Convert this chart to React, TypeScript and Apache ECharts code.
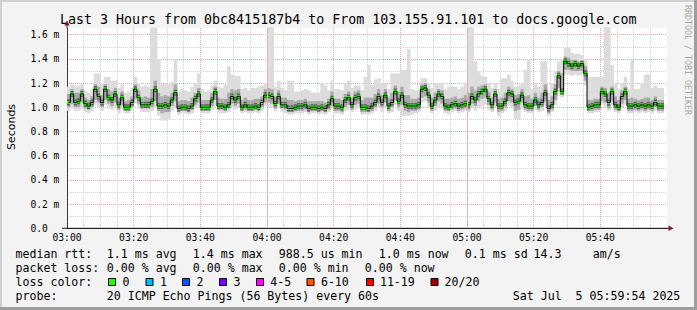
import React, { useEffect, useRef } from 'react';
import * as echarts from 'echarts';

// one value per minute, 03:00 .. 05:59 (ms)
const medianRtt = [
  1.04, 1.11, 1.04, 1.05, 1.11, 1.03, 1.01, 1.04, 1.15, 1.09,
  1.04, 1.15, 1.08, 1.06, 1.11, 1.02, 1.08, 1.00, 1.00, 1.04,
  1.15, 1.08, 1.02, 1.02, 1.02, 1.05, 1.15, 1.01, 1.01, 1.02,
  1.01, 1.06, 1.12, 0.99, 1.00, 1.00, 0.99, 1.01, 1.07, 1.11,
  1.00, 1.00, 1.00, 1.06, 1.13, 1.01, 1.01, 1.00, 1.02, 1.09,
  1.06, 1.09, 1.00, 1.02, 1.00, 1.00, 1.01, 1.00, 1.04, 1.10,
  1.10, 1.09, 1.03, 1.09, 1.02, 1.02, 0.99, 0.99, 1.00, 1.01,
  1.01, 1.02, 0.99, 1.00, 1.00, 0.99, 1.00, 0.99, 1.02, 1.07,
  1.01, 1.01, 1.00, 1.06, 1.08, 1.02, 1.08, 1.09, 1.00, 1.00,
  0.99, 1.01, 1.04, 1.09, 1.04, 1.10, 1.01, 1.04, 1.13, 1.05,
  1.10, 1.02, 1.01, 1.01, 1.01, 1.02, 1.15, 1.16, 1.10, 1.01,
  1.06, 1.11, 1.09, 1.01, 1.00, 1.02, 1.03, 1.01, 1.02, 1.03,
  1.02, 1.09, 1.06, 1.11, 1.13, 1.15, 1.07, 1.02, 1.11, 1.01,
  1.01, 1.05, 1.12, 1.11, 1.04, 1.05, 1.10, 1.02, 1.01, 1.01,
  1.06, 1.02, 1.04, 1.12, 0.99, 1.02, 1.13, 1.26, 1.13, 1.38,
  1.36, 1.34, 1.36, 1.34, 1.36, 1.28, 1.00, 1.01, 1.02, 1.02,
  1.13, 1.11, 1.04, 1.13, 1.02, 1.00, 1.09, 1.13, 1.01, 1.01,
  1.02, 1.01, 1.02, 1.01, 1.02, 1.01, 1.04, 1.01, 1.01, null,
];

const minRtt = [
  0.97, 0.99, 0.97, 0.97, 0.99, 0.96, 0.95, 0.97, 1.02, 1.00,
  0.97, 1.02, 0.99, 0.98, 1.00, 0.95, 0.98, 0.95, 0.95, 0.97,
  1.03, 0.99, 0.96, 0.96, 0.96, 0.97, 1.00, 0.93, 0.89, 0.89,
  0.90, 0.97, 1.00, 0.94, 0.95, 0.95, 0.94, 0.95, 0.99, 1.00,
  0.95, 0.95, 0.95, 0.98, 1.01, 0.95, 0.95, 0.95, 0.96, 1.00,
  0.98, 1.00, 0.95, 0.96, 0.95, 0.95, 0.96, 0.95, 0.97, 1.01,
  1.00, 1.00, 0.97, 0.99, 0.96, 0.95, 0.94, 0.94, 0.95, 0.95,
  0.95, 0.96, 0.94, 0.95, 0.95, 0.94, 0.95, 0.94, 0.96, 0.98,
  0.95, 0.95, 0.94, 0.97, 0.98, 0.96, 0.98, 0.99, 0.94, 0.94,
  0.94, 0.95, 0.97, 1.00, 0.96, 1.00, 0.95, 0.96, 1.02, 0.97,
  0.93, 0.93, 0.93, 0.94, 0.95, 0.96, 1.04, 1.05, 1.00, 0.95,
  0.97, 1.00, 0.99, 0.95, 0.94, 0.96, 0.97, 0.95, 0.96, 0.97,
  0.96, 0.99, 0.97, 1.00, 1.01, 1.02, 0.98, 0.96, 1.00, 0.93,
  0.95, 0.97, 1.01, 1.00, 0.90, 0.90, 0.99, 0.96, 0.95, 0.95,
  0.98, 0.96, 0.97, 1.01, 0.93, 0.96, 1.02, 1.12, 1.08, 1.27,
  1.27, 1.26, 1.27, 1.26, 1.27, 1.18, 0.95, 0.95, 0.96, 0.96,
  1.02, 1.00, 0.97, 1.02, 0.96, 0.95, 1.00, 1.02, 0.95, 0.95,
  0.96, 0.95, 0.96, 0.95, 0.96, 0.95, 0.97, 0.95, 0.95, null,
];

const maxRtt = [
  1.17, 1.19, 1.18, 1.18, 1.19, 1.14, 1.12, 1.15, 1.28, 1.28,
  1.19, 1.25, 1.25, 1.22, 1.22, 1.16, 1.19, 1.12, 1.13, 1.16,
  1.25, 1.20, 1.17, 1.18, 1.17, 1.66, 1.66, 1.40, 1.19, 1.20,
  1.19, 1.21, 1.40, 1.13, 1.15, 1.14, 1.13, 1.17, 1.20, 1.28,
  1.15, 1.13, 1.14, 1.18, 1.22, 1.17, 1.16, 1.19, 1.34, 1.27,
  1.26, 1.26, 1.15, 1.16, 1.14, 1.16, 1.16, 1.17, 1.18, 1.20,
  1.66, 1.66, 1.17, 1.22, 1.16, 1.14, 1.22, 1.22, 1.13, 1.13,
  1.14, 1.15, 1.14, 1.12, 1.12, 1.12, 1.20, 1.18, 1.14, 1.22,
  1.15, 1.15, 1.14, 1.20, 1.22, 1.16, 1.18, 1.18, 1.14, 1.25,
  1.35, 1.18, 1.23, 1.24, 1.20, 1.20, 1.15, 1.28, 1.28, 1.28,
  1.31, 1.31, 1.48, 1.15, 1.14, 1.14, 1.24, 1.24, 1.20, 1.16,
  1.20, 1.20, 1.20, 1.15, 1.17, 1.17, 1.17, 1.15, 1.17, 1.20,
  1.66, 1.66, 1.38, 1.29, 1.26, 1.25, 1.20, 1.16, 1.20, 1.15,
  1.24, 1.24, 1.27, 1.22, 1.17, 1.18, 1.20, 1.31, 1.40, 1.15,
  1.20, 1.17, 1.38, 1.38, 1.12, 1.20, 1.30, 1.38, 1.40, 1.49,
  1.49, 1.45, 1.44, 1.44, 1.43, 1.40, 1.25, 1.25, 1.25, 1.25,
  1.25, 1.66, 1.66, 1.35, 1.20, 1.15, 1.20, 1.25, 1.15, 1.39,
  1.15, 1.15, 1.20, 1.27, 1.27, 1.16, 1.18, 1.16, 1.16, null,
];

const lowRtt = [
  1.00, 1.03, 1.00, 1.00, 1.04, 0.99, 0.98, 1.00, 1.06, 1.04,
  1.00, 1.06, 1.03, 1.01, 1.04, 0.98, 1.02, 0.97, 0.97, 1.00,
  1.07, 1.03, 0.99, 0.99, 0.99, 1.00, 1.05, 0.97, 0.95, 0.96,
  0.96, 1.01, 1.05, 0.96, 0.97, 0.97, 0.96, 0.98, 1.02, 1.04,
  0.97, 0.97, 0.97, 1.01, 1.06, 0.98, 0.98, 0.97, 0.99, 1.03,
  1.01, 1.03, 0.97, 0.98, 0.97, 0.97, 0.98, 0.97, 1.00, 1.04,
  1.04, 1.03, 0.99, 1.03, 0.99, 0.98, 0.96, 0.96, 0.97, 0.97,
  0.97, 0.98, 0.96, 0.97, 0.97, 0.96, 0.97, 0.96, 0.98, 1.01,
  0.97, 0.97, 0.96, 1.00, 1.02, 0.98, 1.02, 1.03, 0.96, 0.96,
  0.96, 0.97, 1.00, 1.03, 1.00, 1.04, 0.97, 1.00, 1.06, 1.00,
  1.02, 0.97, 0.96, 0.97, 0.97, 0.98, 1.08, 1.09, 1.04, 0.97,
  1.01, 1.05, 1.03, 0.97, 0.97, 0.98, 0.99, 0.97, 0.98, 0.99,
  0.98, 1.03, 1.01, 1.05, 1.07, 1.08, 1.02, 0.98, 1.04, 0.96,
  0.97, 1.00, 1.05, 1.04, 0.97, 0.98, 1.04, 0.98, 0.97, 0.97,
  1.01, 0.98, 1.00, 1.05, 0.95, 0.98, 1.06, 1.16, 1.10, 1.31,
  1.31, 1.30, 1.30, 1.30, 1.30, 1.22, 0.97, 0.97, 0.98, 0.98,
  1.05, 1.04, 0.99, 1.05, 0.98, 0.97, 1.03, 1.06, 0.97, 0.97,
  0.98, 0.97, 0.98, 0.97, 0.98, 0.97, 1.00, 0.97, 0.97, null,
];

const highRtt = [
  1.11, 1.15, 1.12, 1.12, 1.15, 1.08, 1.06, 1.09, 1.19, 1.17,
  1.10, 1.19, 1.15, 1.13, 1.16, 1.08, 1.13, 1.05, 1.06, 1.09,
  1.19, 1.14, 1.08, 1.09, 1.08, 1.15, 1.22, 1.12, 1.09, 1.10,
  1.09, 1.12, 1.19, 1.05, 1.06, 1.06, 1.05, 1.08, 1.12, 1.16,
  1.06, 1.06, 1.06, 1.12, 1.17, 1.08, 1.07, 1.07, 1.12, 1.15,
  1.14, 1.15, 1.06, 1.08, 1.06, 1.06, 1.07, 1.07, 1.09, 1.15,
  1.16, 1.15, 1.09, 1.14, 1.08, 1.08, 1.06, 1.06, 1.05, 1.06,
  1.06, 1.07, 1.05, 1.05, 1.05, 1.05, 1.05, 1.04, 1.07, 1.13,
  1.07, 1.07, 1.06, 1.11, 1.13, 1.08, 1.13, 1.14, 1.06, 1.08,
  1.08, 1.08, 1.11, 1.15, 1.10, 1.15, 1.08, 1.12, 1.18, 1.13,
  1.17, 1.10, 1.10, 1.07, 1.07, 1.08, 1.19, 1.20, 1.15, 1.08,
  1.12, 1.15, 1.14, 1.07, 1.07, 1.08, 1.09, 1.07, 1.08, 1.10,
  1.12, 1.17, 1.14, 1.17, 1.18, 1.19, 1.13, 1.08, 1.15, 1.07,
  1.08, 1.12, 1.17, 1.15, 1.10, 1.11, 1.15, 1.09, 1.10, 1.07,
  1.12, 1.08, 1.12, 1.19, 1.06, 1.09, 1.19, 1.30, 1.28, 1.42,
  1.41, 1.39, 1.39, 1.38, 1.38, 1.34, 1.06, 1.06, 1.07, 1.07,
  1.17, 1.16, 1.12, 1.17, 1.09, 1.06, 1.14, 1.17, 1.07, 1.08,
  1.07, 1.06, 1.07, 1.08, 1.08, 1.06, 1.09, 1.06, 1.06, null,
];

const xTickLabels = ['03:00', '03:20', '03:40', '04:00', '04:20', '04:40', '05:00', '05:20', '05:40'];
const yTickLabels = ['0.0', '0.2 m', '0.4 m', '0.6 m', '0.8 m', '1.0 m', '1.2 m', '1.4 m', '1.6 m'];
const hourMarks = [60, 120];

const lossLegend = [
  { label: '0', color: '#26ff00' },
  { label: '1', color: '#00b8ff' },
  { label: '2', color: '#0059ff' },
  { label: '3', color: '#7e00ff' },
  { label: '4-5', color: '#ff00ff' },
  { label: '6-10', color: '#ff5500' },
  { label: '11-19', color: '#ff0000' },
  { label: '20/20', color: '#a10000' },
];
const lossBoxX = [108, 145.5, 182, 219, 256, 306.5, 366, 430.5];
const lossLabelX = [123, 160.5, 197, 234, 270.7, 321.4, 380.4, 445];

const MONO = '"DejaVu Sans Mono", monospace';

export default function App() {
  const ref = useRef<HTMLDivElement>(null);

  useEffect(() => {
    const chart = echarts.init(ref.current!, null, { renderer: 'svg', width: 697, height: 310 });

    const smokeData: number[][] = [];
    medianRtt.forEach((m, i) => {
      if (m == null) return;
      smokeData.push([i, minRtt[i] as number, lowRtt[i] as number, highRtt[i] as number, maxRtt[i] as number, m]);
    });
    const medianLine = medianRtt.map((v, i) => [i + 0.5, v == null ? '-' : v]);

    const txt = (text: string, x: number, y: number, size = 11.6, extra: any = {}) => ({
      type: 'text',
      x,
      y,
      silent: true,
      ...extra,
      style: {
        text,
        font: `${size}px ${MONO}`,
        fill: extra.fill || '#000',
        align: extra.align || 'left',
        verticalAlign: 'middle',
        textAlign: extra.align || 'left',
        textVerticalAlign: 'middle',
      },
    });

    const legendRows: any[] = [
      txt('median rtt:', 15.5, 254),
      txt('1.1 ms avg', 106.8, 254),
      txt('1.4 ms max', 192.8, 254),
      txt('988.5 us min', 278.8, 254),
      txt('1.0 ms now', 378.8, 254),
      txt('0.1 ms sd', 464.8, 254),
      txt('14.3', 533.5, 254),
      txt('am/s', 592.8, 254),
      txt('packet loss:', 15.5, 268),
      txt('0.00 % avg', 106.8, 268),
      txt('0.00 % max', 192.8, 268),
      txt('0.00 % min', 278.8, 268),
      txt('0.00 % now', 364.8, 268),
      txt('loss color:', 15.5, 282),
      txt('probe:', 15.5, 296),
      txt('20 ICMP Echo Pings (56 Bytes) every 60s', 106.8, 296),
      txt('Sat Jul  5 05:59:54 2025', 512.8, 296),
    ];
    lossLegend.forEach((l, i) => {
      legendRows.push({
        type: 'rect',
        silent: true,
        shape: { x: lossBoxX[i] + 0.5, y: 278.5, width: 7, height: 7 },
        style: { fill: l.color, stroke: '#000', lineWidth: 1 },
      });
      legendRows.push(txt(l.label, lossLabelX[i] - 0.5, 282));
    });

    const option: any = {
      animation: false,
      backgroundColor: '#f3f3f3',
      grid: { left: 67, right: 30, top: 28, bottom: 81.7, show: true, backgroundColor: '#ffffff', borderWidth: 0 },
      xAxis: [
        {
          type: 'value', min: 0, max: 180, interval: 20, z: 1,
          axisLine: { show: true, onZero: false, lineStyle: { color: '#222', width: 1 } },
          axisTick: { show: false },
          axisLabel: {
            fontFamily: MONO, fontSize: 9.7, color: '#000', margin: 4.5, showMaxLabel: false,
            formatter: (v: number) => xTickLabels[Math.round(v / 20)] ?? '',
          },
          splitLine: { show: true, showMaxLine: false, lineStyle: { color: '#eaa4a4', type: [1, 1], width: 1 } },
        },
        {
          type: 'value', min: 0, max: 180, interval: 5, z: 0, position: 'bottom',
          axisLine: { show: false }, axisTick: { show: false }, axisLabel: { show: false },
          splitLine: { show: true, showMaxLine: false, lineStyle: { color: '#cfcfcf', type: [1, 1], width: 1 } },
        },
      ],
      yAxis: [
        {
          type: 'value', min: 0, max: 1.655, interval: 0.2, z: 1,
          axisLine: { show: true, onZero: false, lineStyle: { color: '#4a3434', width: 1 } },
          axisTick: { show: false },
          axisLabel: {
            fontFamily: MONO, fontSize: 9.6, color: '#000', margin: 36.5, align: 'left', showMaxLabel: false,
            formatter: (v: number) => {
              const k = Math.round(v / 0.2);
              return Math.abs(v / 0.2 - k) < 1e-6 ? yTickLabels[k] ?? '' : '';
            },
          },
          splitLine: { show: true, showMaxLine: false, lineStyle: { color: '#eaa4a4', type: [1, 1], width: 1 } },
        },
        {
          type: 'value', min: 0, max: 1.655, interval: 0.1, z: 0,
          axisLine: { show: false }, axisTick: { show: false }, axisLabel: { show: false },
          splitLine: { show: true, showMaxLine: false, lineStyle: { color: '#cfcfcf', type: [1, 1], width: 1 } },
        },
      ],
      series: [
        {
          type: 'line', step: 'middle', symbol: 'none', silent: true,
          data: medianLine, lineStyle: { width: 0, opacity: 0 },
          markLine: {
            silent: true, symbol: 'none', label: { show: false },
            lineStyle: { color: '#f0b0b0', type: 'solid', width: 1, opacity: 1 },
            data: hourMarks.map((m) => ({ xAxis: m })),
          },
        },
        {
          type: 'custom', silent: true,
          data: smokeData,
          encode: { x: 0, y: [1, 4] },
          renderItem: (params: any, api: any) => {
            const i = api.value(0);
            const top = api.coord([i, api.value(4)]);
            const bot = api.coord([i + 1, api.value(1)]);
            const hi = api.coord([i, api.value(3)]);
            const lo = api.coord([i + 1, api.value(2)]);
            const med = api.coord([i, api.value(5)]);
            const w = bot[0] - top[0] + 0.35;
            return {
              type: 'group',
              children: [
                { type: 'rect', shape: { x: top[0], y: top[1], width: w, height: bot[1] - top[1] }, style: { fill: '#dcdcdc' } },
                { type: 'rect', shape: { x: top[0], y: hi[1], width: w, height: lo[1] - hi[1] }, style: { fill: '#a9a9a9' } },
                { type: 'rect', shape: { x: top[0], y: med[1] - 3, width: w, height: 6 }, style: { fill: '#5e5e5e' } },
              ],
            };
          },
        },
        {
          type: 'line', step: 'middle', symbol: 'none', silent: true,
          data: medianLine, lineStyle: { width: 1, color: '#000' },
        },
        {
          type: 'custom', silent: true,
          data: smokeData,
          encode: { x: 0, y: 5 },
          renderItem: (params: any, api: any) => {
            const i = api.value(0);
            const c = api.coord([i + 0.5, api.value(5)]);
            return { type: 'rect', shape: { x: c[0] - 1.7, y: c[1] - 1.5, width: 3.4, height: 3 }, style: { fill: '#26ff00' } };
          },
        },
      ],
      graphic: [
        { type: 'rect', silent: true, shape: { x: 0, y: 0, width: 697, height: 2 }, style: { fill: '#cfcfcf' } },
        { type: 'rect', silent: true, shape: { x: 0, y: 0, width: 2, height: 310 }, style: { fill: '#cfcfcf' } },
        { type: 'rect', silent: true, shape: { x: 694, y: 0, width: 3, height: 310 }, style: { fill: '#9e9e9e' } },
        { type: 'rect', silent: true, shape: { x: 0, y: 307, width: 697, height: 3 }, style: { fill: '#9e9e9e' } },
        txt('Last 3 Hours from 0bc8415187b4 to From 103.155.91.101 to docs.google.com', 60, 19, 13.3),
        txt('RRDTOOL / TOBI OETIKER', 687.5, 5, 8.3, { rotation: -Math.PI / 2, fill: '#a8a8a8' }),
        {
          type: 'text', x: 11, y: 127, rotation: Math.PI / 2, silent: true,
          style: {
            text: 'Seconds', font: '11px "DejaVu Sans", sans-serif', fill: '#000',
            align: 'center', verticalAlign: 'middle', textAlign: 'center', textVerticalAlign: 'middle',
          },
        },
        { type: 'line', silent: true, shape: { x1: 67, y1: 28, x2: 67, y2: 24 }, style: { stroke: '#4a3434', lineWidth: 1 } },
        { type: 'polygon', silent: true, shape: { points: [[64.3, 25.5], [69.7, 25.5], [67, 20.5]] }, style: { fill: '#7f1f1f' } },
        { type: 'line', silent: true, shape: { x1: 62, y1: 228.3, x2: 669, y2: 228.3 }, style: { stroke: '#222', lineWidth: 1 } },
        { type: 'polygon', silent: true, shape: { points: [[668.5, 225.5], [668.5, 231.1], [673.5, 228.3]] }, style: { fill: '#7f1f1f' } },
        ...legendRows,
      ],
    };
    chart.setOption(option);
    return () => chart.dispose();
  }, []);

  return <div ref={ref} style={{ position: 'fixed', left: 0, top: 0, width: 697, height: 310 }} />;
}
